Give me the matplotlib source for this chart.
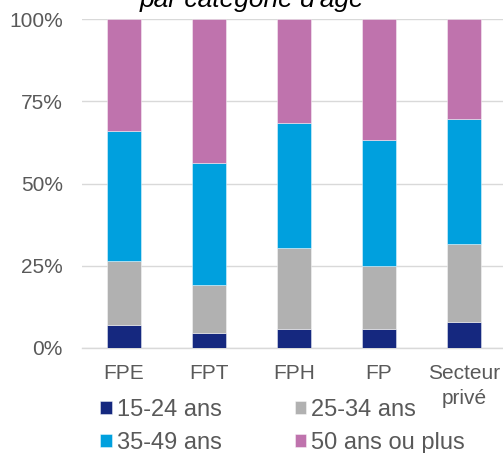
import matplotlib
matplotlib.use('Agg')

import numpy as np
import matplotlib.pyplot as plt

plt.rcParams['font.family'] = ['Liberation Sans', 'DejaVu Sans']

# data (percent of staff by age group)
categories = ["FPE", "FPT", "FPH", "FP", "Secteur\nprivé"]
age_15_24 = [6.8, 4.6, 5.8, 5.8, 7.8]
age_25_34 = [19.6, 14.4, 24.6, 19.0, 23.8]
age_35_49 = [39.6, 37.2, 37.9, 38.5, 37.9]
age_50_plus = [34.0, 43.8, 31.7, 36.7, 30.5]

series = [("15-24 ans", age_15_24, "#15287f"),
          ("25-34 ans", age_25_34, "#b1b1b1"),
          ("35-49 ans", age_35_49, "#00a0de"),
          ("50 ans ou plus", age_50_plus, "#bf73ad")]

TEXT = "#595959"


def main():
    fig = plt.figure(figsize=(5.03, 4.53), dpi=100)
    ax = fig.add_axes([81.5 / 503, 105.3 / 453, 425 / 503, 328.4 / 453])

    x = np.arange(len(categories))
    bottom = np.zeros(len(categories))
    handles = []
    for label, vals, color in series:
        vals = np.array(vals)
        b = ax.bar(x, vals, width=0.4, bottom=bottom, color=color,
                   edgecolor=(1, 1, 1, 0.5), linewidth=0.6, label=label,
                   zorder=3)
        handles.append(b)
        bottom += vals

    ax.set_xlim(-0.5, len(categories) - 0.5)
    ax.set_ylim(0, 100)
    ax.set_yticks([0, 25, 50, 75, 100])
    ax.set_yticklabels(["0%", "25%", "50%", "75%", "100%"])
    ax.set_xticks(x)
    ax.set_xticklabels(categories, linespacing=1.35)
    ax.tick_params(axis='both', length=0, labelsize=15, colors=TEXT)
    ax.tick_params(axis='y', pad=13.5)
    ax.tick_params(axis='x', pad=12)
    ax.grid(axis='y', color='#d9d9d9', linewidth=1.0, zorder=0)
    for s in ['top', 'right', 'left']:
        ax.spines[s].set_visible(False)
    ax.spines['bottom'].set_color('#d9d9d9')
    ax.spines['bottom'].set_linewidth(1.0)

    fig.text(251.5 / 503, (453 - 6.7) / 453, "par catégorie d'âge",
             fontsize=19, style='italic', ha='center', va='baseline',
             color='black')

    # legend fills column by column, so reorder to get rows like the reference
    order = [0, 2, 1, 3]
    fig.legend(handles=[handles[i] for i in order], loc='upper left',
               bbox_to_anchor=(100 / 503, 54 / 453), ncol=2,
               frameon=False, fontsize=17, handlelength=0.5,
               handleheight=0.5, handletextpad=0.2, columnspacing=3.1,
               labelspacing=0.45, borderpad=0, borderaxespad=0,
               labelcolor=TEXT)

    fig.savefig("out.png", dpi=100)
    plt.close(fig)


if __name__ == "__main__":
    main()
